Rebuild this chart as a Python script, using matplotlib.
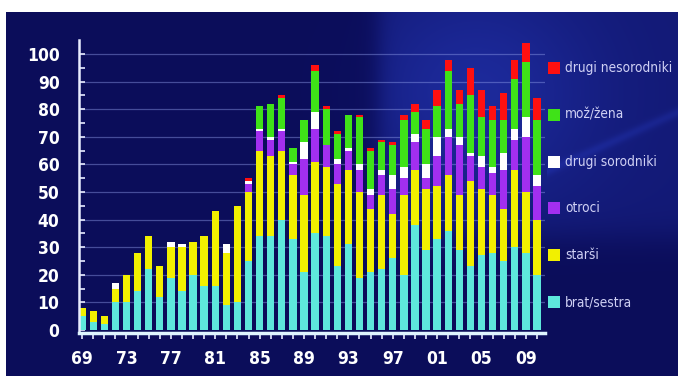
import numpy as np
import matplotlib
matplotlib.use("Agg")
import matplotlib.pyplot as plt
from matplotlib.patches import Rectangle
from matplotlib.font_manager import FontProperties

years = list(range(1969, 2011))

brat_sestra = [5, 3, 2, 10, 10, 14, 22, 12, 19, 14, 20, 16, 16, 9, 10, 25,
               34, 34, 40, 33, 21, 35, 34, 23, 31, 19, 21, 22, 26, 20, 38, 29,
               33, 36, 29, 23, 27, 28, 25, 30, 28, 20]
starsi = [3, 4, 3, 5, 10, 14, 12, 11, 11, 16, 12, 18, 27, 19, 35, 25,
          31, 29, 25, 23, 28, 26, 25, 30, 27, 31, 23, 27, 16, 29, 20, 22,
          19, 20, 20, 31, 24, 21, 19, 28, 22, 20]
otroci = [0, 0, 0, 0, 0, 0, 0, 0, 0, 0, 0, 0, 0, 0, 0, 3,
          7, 6, 7, 4, 13, 12, 8, 7, 7, 8, 5, 7, 9, 6, 10, 4,
          11, 14, 18, 9, 8, 8, 14, 11, 20, 12]
drugi_sorodniki = [0, 0, 0, 2, 0, 0, 0, 0, 2, 1, 0, 0, 0, 3, 0, 1,
                   1, 1, 1, 1, 6, 6, 0, 2, 1, 2, 2, 2, 5, 4, 3, 5,
                   7, 3, 3, 1, 4, 2, 6, 4, 7, 4]
moz_zena = [0, 0, 0, 0, 0, 0, 0, 0, 0, 0, 0, 0, 0, 0, 0, 0,
            8, 12, 11, 5, 8, 15, 13, 9, 12, 17, 14, 10, 11, 17, 8, 13,
            11, 21, 12, 21, 14, 17, 12, 18, 20, 20]
drugi_nesorodniki = [0, 0, 0, 0, 0, 0, 0, 0, 0, 0, 0, 0, 0, 0, 0, 1,
                     0, 0, 1, 0, 0, 2, 1, 1, 0, 1, 1, 1, 1, 2, 3, 3,
                     6, 4, 5, 10, 10, 5, 10, 7, 7, 8]

series = [
    ("brat/sestra", brat_sestra, "#5ee8dc"),
    ("starši", starsi, "#f2f000"),
    ("otroci", otroci, "#a22ff0"),
    ("drugi sorodniki", drugi_sorodniki, "#ffffff"),
    ("mož/žena", moz_zena, "#3fe218"),
    ("drugi nesorodniki", drugi_nesorodniki, "#ff1010"),
]

x_ticks = [1969, 1973, 1977, 1981, 1985, 1989, 1993, 1997, 2001, 2005, 2009]
x_labels = ["69", "73", "77", "81", "85", "89", "93", "97", "01", "05", "09"]
y_ticks = list(range(0, 101, 10))

W, H = 678, 376
fig = plt.figure(figsize=(W / 100, H / 100), dpi=100)
fig.patch.set_facecolor("white")

# dark blue backdrop with a lighter panel in the upper right
bg = fig.add_axes([6 / W, 0, 1 - 6 / W, 1 - 12 / H])
bg.set_axis_off()
hh, ww = 364, 672
yy, xx = np.mgrid[0:hh, 0:ww]
base = np.array([11, 13, 90]) / 255.0
light = np.array([30, 44, 160]) / 255.0
panel = 1 / (1 + np.exp(-(xx - 372) / 6.0)) * 1 / (1 + np.exp((yy - 225) / 10.0))
glow = np.exp(-(((xx - 470) / 120.0) ** 2 + ((yy - 80) / 110.0) ** 2))
mix = np.clip(0.4 * panel + 0.4 * glow * panel + 0.12 * glow, 0, 1)
streak = np.exp(-((yy - (150 - 0.45 * (xx - 560))) / 5.0) ** 2) * (xx > 540)
mix = np.clip(mix + 0.3 * streak, 0, 1)
img = base[None, None, :] * (1 - mix[..., None]) + light[None, None, :] * mix[..., None]
bg.imshow(img, aspect="auto", extent=[0, 1, 0, 1], interpolation="bilinear")
bg.set_xlim(0, 1)
bg.set_ylim(0, 1)

ax = fig.add_axes([79 / W, 0.1136, 466 / W, 0.7795])
ax.patch.set_alpha(0)
ax.set_xlim(1968.72, 2010.72)
ax.set_ylim(-1.2, 105)

for yv in y_ticks[1:]:
    ax.axhline(yv, color="#8c9ae8", lw=0.9, alpha=0.45, zorder=1)

bottom = np.zeros(len(years))
for name, vals, col in series:
    ax.bar(years, vals, bottom=bottom, width=0.66, color=col,
           edgecolor="none", zorder=2, label=name)
    bottom += np.array(vals)

for s in ["top", "right"]:
    ax.spines[s].set_visible(False)
ax.spines["left"].set_color("#e8ecff")
ax.spines["left"].set_linewidth(1.8)
ax.spines["bottom"].set_color("#dff6ff")
ax.spines["bottom"].set_linewidth(2.5)

ax.set_yticks(y_ticks)
ax.set_yticks(range(5, 105, 10), minor=True)
ax.set_yticklabels([str(v) for v in y_ticks])
ax.tick_params(axis="y", which="both", direction="in", color="#e8ecff",
               length=4, width=1.2, pad=14)
ax.set_xticks(x_ticks)
ax.set_xticklabels(x_labels)
ax.set_xticks(years, minor=True)
ax.tick_params(axis="x", which="both", direction="out", color="#e8ecff",
               length=4, width=1.2, pad=8)

tick_fp = FontProperties(family="DejaVu Sans", weight="bold",
                         stretch="condensed", size=12.5)
for lab in ax.get_yticklabels() + ax.get_xticklabels():
    lab.set_color("white")
    lab.set_fontproperties(tick_fp)

# legend, top entry first
leg_fp = FontProperties(family="DejaVu Sans", stretch="condensed", size=9.8)
leg_y = [68, 115, 162, 208, 255, 302]
for (name, vals, col), ypx in zip(series[::-1], leg_y):
    fig.patches.append(Rectangle((548 / W, 1 - (ypx + 6) / H), 12 / W, 12 / H,
                                 transform=fig.transFigure, facecolor=col,
                                 edgecolor="none"))
    fig.text(565 / W, 1 - ypx / H, name, color="#cfd0f4", va="center",
             ha="left", fontproperties=leg_fp)

fig.savefig("out.png", dpi=100, facecolor="white")
